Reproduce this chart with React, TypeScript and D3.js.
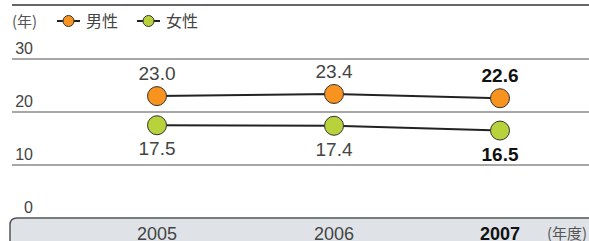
import React from "react";
import * as d3 from "d3";

const years = ["2005", "2006", "2007"];
const male = [23.0, 23.4, 22.6];
const female = [17.5, 17.4, 16.5];
const yTicks = [0, 10, 20, 30];
const legendLabels = ["男性", "女性"];
const colors = ["#f7931e", "#b8d23c"];

const W = 589;
const H = 241;
const FONT = "'Liberation Sans', Arial, 'Noto Sans CJK JP', sans-serif";
const CJK = "'Noto Sans CJK JP', 'Liberation Sans', sans-serif";

export default function App() {
  const y = d3.scaleLinear().domain([0, 30]).range([218, 59]);
  const x = d3.scaleOrdinal<string, number>().domain(years).range([157, 334, 500]);
  const line = d3
    .line<number>()
    .x((_, i) => x(years[i]))
    .y((d) => y(d));
  const series = [male, female];
  const last = years.length - 1;

  return (
    <svg
      width={W}
      height={H}
      style={{ position: "absolute", left: 0, top: 0, display: "block" }}
    >
      <rect width={W} height={H} fill="#fff" />
      {/* top rule */}
      <line x1={12} x2={W} y1={5} y2={5} stroke="#666" strokeWidth={2} />
      {/* legend */}
      <text x={12} y={27} fontSize={15} fill="#555" fontFamily={CJK}>
        (年)
      </text>
      {legendLabels.map((lab, i) => {
        const lx = 57 + i * 80;
        return (
          <g key={lab}>
            <line x1={lx} x2={lx + 23} y1={21} y2={21} stroke="#222" strokeWidth={2} />
            <circle cx={lx + 11.5} cy={21} r={5.5} fill={colors[i]} stroke="#333" strokeWidth={1} />
            <text x={lx + 29} y={27} fontSize={16} fill="#444" fontFamily={CJK}>
              {lab}
            </text>
          </g>
        );
      })}
      {/* gridlines */}
      {yTicks
        .filter((t) => t > 0)
        .map((t) => (
          <line key={t} x1={12} x2={W} y1={y(t)} y2={y(t)} stroke="#8a8a8a" strokeWidth={1.5} />
        ))}
      {yTicks.map((t) => (
        <text
          key={"l" + t}
          x={33}
          y={y(t) - 5}
          textAnchor="end"
          fontSize={16}
          fill="#444"
          fontFamily={FONT}
        >
          {t}
        </text>
      ))}
      {/* category box */}
      <path
        d={`M10,${H + 5} L10,${y(0) + 7} Q10,${y(0)} 17,${y(0)} L${W + 5},${y(0)} L${W + 5},${H + 5} Z`}
        fill="#dfe3e7"
        stroke="#555"
        strokeWidth={1.5}
      />
      {years.map((yr, i) => (
        <text
          key={yr}
          x={x(yr)}
          y={240}
          textAnchor="middle"
          fontSize={18}
          fontWeight={i === last ? "bold" : "normal"}
          fill={i === last ? "#111" : "#444"}
          fontFamily={FONT}
        >
          {yr}
        </text>
      ))}
      <text x={547} y={239} fontSize={15} fill="#555" fontFamily={CJK}>
        (年度)
      </text>
      {/* series */}
      {series.map((s, si) => (
        <g key={si}>
          <path d={line(s) || ""} fill="none" stroke="#222" strokeWidth={2} />
          {s.map((v, i) => (
            <g key={i}>
              <circle cx={x(years[i])} cy={y(v)} r={9.5} fill={colors[si]} stroke="#333" strokeWidth={1} />
              <text
                x={x(years[i])}
                y={si === 0 ? y(v) - 16 : y(v) + 30}
                textAnchor="middle"
                fontSize={19}
                fontWeight={i === last ? "bold" : "normal"}
                fill={i === last ? "#111" : "#444"}
                fontFamily={FONT}
              >
                {v.toFixed(1)}
              </text>
            </g>
          ))}
        </g>
      ))}
    </svg>
  );
}
